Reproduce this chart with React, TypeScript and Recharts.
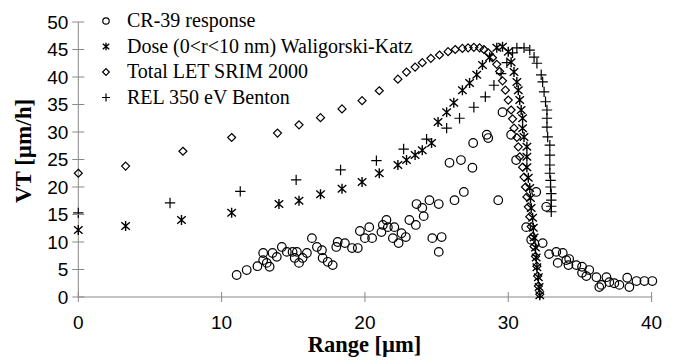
import { ScatterChart, Scatter, XAxis, YAxis } from "recharts";

// [range µm, VT µm/h]
const cr39: number[][] = [
  [11.05, 4.0], [11.75, 4.9], [12.5, 5.6], [12.9, 8.0], [12.9, 6.7], [13.15, 6.2],
  [13.35, 5.5], [13.55, 8.0], [13.85, 7.3], [14.2, 9.1], [14.55, 8.2], [14.95, 8.2],
  [15.25, 8.2], [15.1, 7.1], [15.4, 6.2], [15.65, 7.1], [15.95, 8.0], [16.3, 10.7],
  [16.65, 9.1], [17.0, 8.5], [17.05, 7.1], [17.4, 6.4], [17.75, 5.8], [18.0, 9.1],
  [18.1, 10.0], [18.6, 9.8], [19.1, 8.9], [19.5, 8.9], [19.65, 12.0], [20.0, 10.7],
  [20.3, 12.7], [20.5, 10.7], [21.15, 11.8], [21.25, 13.1], [21.5, 14.0], [21.6, 12.7],
  [22.05, 12.7], [21.95, 10.7], [22.35, 9.8], [22.55, 11.6], [22.85, 10.9], [23.1, 14.0],
  [23.55, 13.1], [23.6, 16.9], [24.0, 16.2], [24.1, 14.7], [24.5, 17.6], [25.15, 16.9],
  [24.7, 10.7], [25.35, 10.9], [25.15, 8.2], [26.25, 17.6], [26.9, 19.1], [25.9, 24.4],
  [26.7, 24.9], [27.5, 23.5], [27.55, 28.0], [28.5, 29.5], [28.6, 28.9], [29.6, 33.6],
  [29.3, 17.6], [30.2, 29.5], [30.55, 24.9], [31.95, 19.1], [32.65, 16.4], [31.25, 12.7],
  [31.6, 10.4], [32.4, 9.8], [32.85, 7.8], [33.35, 8.2], [33.45, 6.2], [33.8, 8.0],
  [34.05, 6.7], [34.25, 6.9], [34.2, 5.8], [34.75, 5.8], [35.15, 5.5], [35.15, 4.4],
  [35.65, 4.9], [35.45, 3.8], [36.15, 3.6], [36.35, 1.8], [36.5, 2.2], [36.85, 3.6],
  [37.05, 2.7], [37.4, 2.5], [37.75, 2.2], [38.3, 3.5], [38.45, 1.8], [38.95, 2.9],
  [39.5, 2.9], [40.05, 2.9],
];

const doseWK: number[][] = [
  [0, 12.2], [3.3, 12.9], [7.2, 14.0], [10.7, 15.3], [14.0, 16.9], [15.4, 17.5],
  [16.9, 18.7], [18.4, 19.7], [19.8, 20.9], [21.0, 22.5], [22.3, 24.0], [22.9, 24.9],
  [23.5, 25.8], [24.0, 26.7], [24.65, 28.0], [25.1, 31.8], [25.7, 33.6], [26.2, 35.3],
  [26.8, 37.6], [27.3, 38.9], [27.8, 40.4], [28.2, 42.2], [28.7, 43.6], [29.2, 45.3],
  [29.6, 45.5], [30.0, 44.6], [30.2, 42.7], [30.4, 40.9], [30.6, 39.1], [30.7, 37.6],
  [30.8, 35.8], [30.9, 34.0], [31.0, 32.5], [31.0, 30.7], [31.1, 29.1], [31.3, 27.3],
  [31.3, 25.5], [31.3, 23.6], [31.4, 21.7], [31.5, 19.8], [31.55, 18.0], [31.6, 16.2],
  [31.7, 14.4], [31.75, 12.6], [31.8, 10.8], [31.9, 9.0], [31.95, 7.2], [32.0, 5.4],
  [32.1, 3.6], [32.15, 1.8], [32.2, 0.3],
];

const letSrim: number[][] = [
  [0, 22.5], [3.3, 23.8], [7.3, 26.5], [10.7, 29.0], [13.9, 29.8], [15.4, 31.3],
  [16.9, 32.6], [18.4, 34.2], [19.8, 35.7], [21.0, 37.5], [22.3, 39.6], [22.9, 40.9],
  [23.5, 41.8], [24.0, 42.6], [24.6, 43.4], [25.2, 44.0], [25.8, 44.6], [26.3, 45.0],
  [26.8, 45.2], [27.2, 45.3], [27.6, 45.4], [28.0, 45.3], [28.3, 45.0], [28.6, 44.4],
  [28.9, 43.5], [29.2, 42.3], [29.4, 41.0], [29.6, 39.3], [29.8, 37.6], [30.0, 35.8],
  [30.2, 34.0], [30.3, 32.4], [30.4, 30.7], [30.6, 29.0], [30.7, 27.3], [30.8, 25.5],
  [31.0, 23.6], [31.1, 21.8], [31.2, 20.0], [31.3, 18.2], [31.4, 16.4], [31.5, 14.6],
  [31.6, 12.8], [31.7, 11.0], [31.8, 9.2], [31.9, 7.4], [32.0, 5.6], [32.05, 3.8],
  [32.1, 2.0], [32.2, 0.5],
];

const relBenton: number[][] = [
  [0, 15.3], [6.4, 17.1], [11.3, 19.2], [15.2, 21.3], [18.3, 23.1], [20.8, 24.8],
  [22.7, 26.9], [24.3, 28.7], [25.7, 30.7], [26.6, 32.5], [27.6, 34.5], [28.4, 36.4],
  [29.0, 38.5], [29.5, 40.6], [29.9, 42.6], [30.3, 44.4], [30.6, 45.3], [31.1, 45.3],
  [31.5, 44.9], [31.8, 43.6], [32.0, 42.5], [32.3, 40.4], [32.4, 39.1], [32.5, 37.3],
  [32.6, 35.5], [32.7, 34.0], [32.7, 32.5], [32.7, 30.9], [32.75, 29.1], [32.9, 27.6],
  [32.9, 25.8], [32.9, 24.0], [32.9, 22.5], [32.95, 21.2], [32.95, 20.0], [33.0, 18.8],
  [33.0, 17.6], [33.0, 16.5], [33.0, 15.5],
];

const xTicks = [0, 10, 20, 30, 40];
const yTicks = [0, 5, 10, 15, 20, 25, 30, 35, 40, 45, 50];

const toPts = (arr: number[][]) => arr.map(([x, y]) => ({ x, y }));

const INK = "#000";
const AXIS = "#888";

const CircleMark = ({ cx, cy, s = 4.3 }: any) => (
  <circle cx={cx} cy={cy} r={s} fill="none" stroke={INK} strokeWidth={1.2} />
);
const DiamondMark = ({ cx, cy, s = 4 }: any) => (
  <path
    d={`M${cx},${cy - s}L${cx + s},${cy}L${cx},${cy + s}L${cx - s},${cy}Z`}
    fill="none"
    stroke={INK}
    strokeWidth={1.2}
  />
);
const AsteriskMark = ({ cx, cy, s = 5 }: any) => (
  <path
    d={`M${cx},${cy - s}V${cy + s}M${cx - s * 0.85},${cy - s * 0.75}L${cx + s * 0.85},${cy + s * 0.75}M${cx - s * 0.85},${cy + s * 0.75}L${cx + s * 0.85},${cy - s * 0.75}`}
    stroke={INK}
    strokeWidth={1.4}
  />
);
const PlusMark = ({ cx, cy, s = 5.2 }: any) => (
  <path d={`M${cx - s},${cy}H${cx + s}M${cx},${cy - s}V${cy + s}`} stroke={INK} strokeWidth={1.2} />
);

const YTick = ({ x, y, payload }: any) => (
  <g>
    <line x1={x - 6} x2={x + 6} y1={y} y2={y} stroke={AXIS} />
    <text x={x - 10} y={y} dy="0.36em" textAnchor="end" fontFamily="'Liberation Sans', Arial" fontSize={19} fill={INK}>
      {payload.value}
    </text>
  </g>
);

const XTick = ({ x, y, payload }: any) => (
  <g>
    <line x1={x} x2={x} y1={y - 5} y2={y + 5} stroke={AXIS} />
    <text x={x} y={y + 32} textAnchor="middle" fontFamily="'Liberation Sans', Arial" fontSize={19} fill={INK}>
      {payload.value}
    </text>
  </g>
);

const legendItems = [
  { label: "CR-39 response", Mark: CircleMark, s: 3.2 },
  { label: "Dose (0<r<10 nm) Waligorski-Katz", Mark: AsteriskMark, s: 3.8 },
  { label: "Total LET SRIM 2000", Mark: DiamondMark, s: 3.4 },
  { label: "REL 350 eV Benton", Mark: PlusMark, s: 4 },
];

export default function App() {
  return (
    <div style={{ position: "relative", width: 668, height: 352 }}>
      <ScatterChart width={668} height={352} margin={{ top: 14, right: 23.7, bottom: 33, left: 0.3 }}>
        <XAxis
          type="number"
          dataKey="x"
          domain={[0, 40]}
          ticks={xTicks}
          height={30}
          tickLine={false}
          tickSize={0}
          tickMargin={0}
          axisLine={{ stroke: AXIS }}
          tick={<XTick />}
          interval={0}
        />
        <YAxis
          type="number"
          dataKey="y"
          domain={[0, 50]}
          ticks={yTicks}
          width={70}
          tickLine={false}
          tickSize={0}
          tickMargin={0}
          axisLine={{ stroke: AXIS }}
          tick={<YTick />}
          interval={0}
        />
        <Scatter data={toPts(cr39)} shape={<CircleMark />} isAnimationActive={false} />
        <Scatter data={toPts(doseWK)} shape={<AsteriskMark />} isAnimationActive={false} />
        <Scatter data={toPts(letSrim)} shape={<DiamondMark />} isAnimationActive={false} />
        <Scatter data={toPts(relBenton)} shape={<PlusMark />} isAnimationActive={false} />
      </ScatterChart>
      <svg
        width={668}
        height={352}
        style={{ position: "absolute", left: 0, top: 0, pointerEvents: "none" }}
      >
        {legendItems.map((it, i) => {
          const base = 19 + i * 25.5;
          return (
            <g key={it.label}>
              <it.Mark cx={98} cy={base - 6} s={it.s} />
              <text x={119} y={base} fontFamily="'Liberation Serif', 'Times New Roman'" fontSize={20} fill={INK}>
                {it.label}
              </text>
            </g>
          );
        })}
        <text
          transform="translate(23,143) rotate(-90)"
          textAnchor="middle"
          fontFamily="'Liberation Serif', 'Times New Roman'"
          fontWeight="bold"
          fontSize={23}
          fill={INK}
        >
          VT [µm/h]
        </text>
        <text
          x={356.5}
          y={344}
          textAnchor="middle"
          fontFamily="'Liberation Serif', 'Times New Roman'"
          fontWeight="bold"
          fontSize={22.5}
          fill={INK}
        >
          Range [µm]
        </text>
      </svg>
    </div>
  );
}
